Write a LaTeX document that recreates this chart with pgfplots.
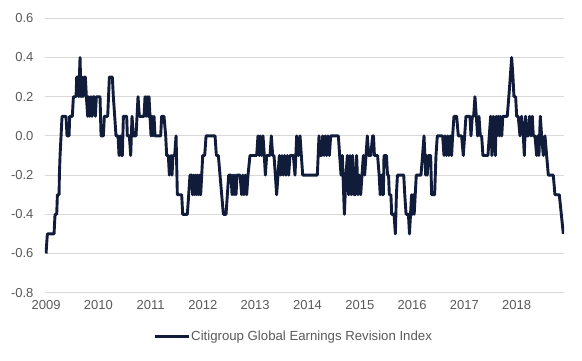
\documentclass[border=0pt]{standalone}
\usepackage{fontspec}
\setmainfont{Liberation Sans}
\usepackage{pgfplots}
\pgfplotsset{compat=1.18}
\definecolor{navy}{RGB}{17,27,58}
\definecolor{txtgray}{RGB}{89,89,89}
\definecolor{gridgray}{RGB}{217,217,217}
\begin{document}
\begin{tikzpicture}[x=1pt,y=1pt]
\useasboundingbox (0,0) rectangle (582,360);
\begin{axis}[
  at={(45pt,67.3pt)}, anchor=south west,
  scale only axis, width=519pt, height=274.4pt,
  xmin=2008.98, xmax=2018.905,
  ymin=-0.8, ymax=0.6,
  xtick={2009,2010,...,2018},
  ytick={-0.8,-0.6,...,0.61},
  /pgf/number format/assume math mode=true,
  xticklabel style={/pgf/number format/1000 sep={}, yshift=-4pt},
  yticklabel style={/pgf/number format/fixed, /pgf/number format/fixed zerofill, /pgf/number format/precision=1, xshift=-8pt},
  ymajorgrids, grid style={gridgray, line width=0.9pt},
  axis line style={draw=none},
  major tick length=0pt,
  tick label style={font=\fontsize{13}{15}\selectfont, text=txtgray},
  legend style={at={(0.478,-0.161)}, anchor=center, draw=none, fill=none,
    font=\fontsize{13.2}{15}\selectfont, text=txtgray, inner sep=0pt,
    nodes={inner sep=1pt}},
  legend image code/.code={\draw[#1, line width=3pt] (0pt,0pt) -- (34pt,0pt);},
]
\addplot[navy, line width=2.9pt, line join=round, mark=none] coordinates {
(2009.000,-0.6) (2009.025,-0.5) (2009.153,-0.5) (2009.172,-0.4) (2009.204,-0.4)
(2009.217,-0.3) (2009.249,-0.3) (2009.255,-0.2) (2009.268,-0.1) (2009.287,0.0)
(2009.306,0.1) (2009.382,0.1) (2009.401,0.0) (2009.440,0.0) (2009.452,0.1)
(2009.503,0.1) (2009.523,0.2) (2009.574,0.2) (2009.586,0.3) (2009.612,0.3)
(2009.625,0.2) (2009.650,0.4) (2009.669,0.2) (2009.688,0.3) (2009.707,0.2)
(2009.727,0.3) (2009.752,0.3) (2009.771,0.2) (2009.797,0.1) (2009.816,0.2)
(2009.835,0.1) (2009.860,0.2) (2009.879,0.1) (2009.899,0.2) (2009.924,0.2)
(2009.943,0.1) (2009.962,0.2) (2010.032,0.2) (2010.052,0.0) (2010.096,0.0)
(2010.115,0.1) (2010.179,0.1) (2010.211,0.3) (2010.268,0.3) (2010.287,0.2)
(2010.313,0.1) (2010.338,0.0) (2010.377,0.0) (2010.396,-0.1) (2010.420,0.0)
(2010.440,-0.1) (2010.459,-0.1) (2010.479,0.1) (2010.542,0.1) (2010.555,0.0)
(2010.593,0.0) (2010.619,-0.1) (2010.644,0.1) (2010.670,0.0) (2010.721,0.0)
(2010.740,0.1) (2010.759,0.2) (2010.784,0.1) (2010.874,0.1) (2010.893,0.2)
(2010.912,0.1) (2010.931,0.2) (2010.950,0.1) (2010.969,0.2) (2010.988,0.1)
(2011.008,0.0) (2011.027,0.1) (2011.046,0.0) (2011.065,0.1) (2011.084,0.0)
(2011.192,0.0) (2011.211,0.1) (2011.256,0.1) (2011.288,0.0) (2011.307,-0.1)
(2011.339,-0.1) (2011.358,-0.2) (2011.390,-0.1) (2011.409,-0.2) (2011.428,-0.1)
(2011.460,-0.1) (2011.486,0.0) (2011.511,-0.3) (2011.594,-0.3) (2011.613,-0.4)
(2011.702,-0.4) (2011.728,-0.3) (2011.753,-0.2) (2011.785,-0.2) (2011.804,-0.3)
(2011.824,-0.2) (2011.843,-0.3) (2011.862,-0.2) (2011.881,-0.3) (2011.900,-0.2)
(2011.919,-0.3) (2011.938,-0.2) (2011.957,-0.3) (2011.977,-0.2) (2011.996,-0.1)
(2012.034,-0.1) (2012.060,0.0) (2012.232,0.0) (2012.257,-0.1) (2012.295,-0.1)
(2012.327,-0.2) (2012.359,-0.3) (2012.391,-0.4) (2012.442,-0.4) (2012.467,-0.3)
(2012.493,-0.2) (2012.537,-0.2) (2012.557,-0.3) (2012.576,-0.2) (2012.595,-0.3)
(2012.614,-0.2) (2012.633,-0.3) (2012.652,-0.2) (2012.710,-0.2) (2012.741,-0.3)
(2012.760,-0.2) (2012.786,-0.3) (2012.811,-0.2) (2012.837,-0.3) (2012.862,-0.2)
(2012.900,-0.1) (2013.028,-0.1) (2013.053,0.0) (2013.079,-0.1) (2013.098,0.0)
(2013.123,-0.1) (2013.149,0.0) (2013.174,-0.1) (2013.194,-0.2) (2013.219,-0.1)
(2013.283,-0.1) (2013.308,0.0) (2013.334,-0.1) (2013.359,-0.1) (2013.385,-0.2)
(2013.410,-0.3) (2013.436,-0.2) (2013.461,-0.1) (2013.487,-0.2) (2013.512,-0.1)
(2013.538,-0.2) (2013.563,-0.1) (2013.589,-0.2) (2013.614,-0.1) (2013.640,-0.2)
(2013.665,-0.1) (2013.729,-0.1) (2013.761,-0.2) (2013.793,0.0) (2013.825,-0.1)
(2013.857,0.0) (2013.882,-0.1) (2013.908,-0.2) (2014.188,-0.2) (2014.220,0.0)
(2014.246,-0.1) (2014.271,-0.1) (2014.290,0.0) (2014.316,-0.1) (2014.341,0.0)
(2014.367,-0.1) (2014.392,0.0) (2014.418,-0.1) (2014.443,0.0) (2014.590,0.0)
(2014.615,-0.1) (2014.641,-0.2) (2014.666,-0.1) (2014.705,-0.4) (2014.736,-0.2)
(2014.762,-0.1) (2014.787,-0.3) (2014.813,-0.1) (2014.838,-0.3) (2014.864,-0.1)
(2014.889,-0.3) (2014.915,-0.3) (2014.940,-0.1) (2014.966,-0.3) (2014.991,-0.2)
(2015.017,-0.3) (2015.042,-0.2) (2015.068,-0.1) (2015.093,-0.2) (2015.119,-0.1)
(2015.144,0.0) (2015.170,-0.1) (2015.210,-0.1) (2015.245,0.0) (2015.262,0.0)
(2015.280,-0.1) (2015.340,-0.1) (2015.370,-0.2) (2015.390,-0.3) (2015.410,-0.2)
(2015.430,-0.3) (2015.450,-0.3) (2015.463,-0.1) (2015.510,-0.1) (2015.530,-0.2)
(2015.550,-0.2) (2015.565,-0.3) (2015.595,-0.3) (2015.610,-0.4) (2015.655,-0.4)
(2015.680,-0.5) (2015.700,-0.3) (2015.720,-0.2) (2015.840,-0.2) (2015.860,-0.3)
(2015.885,-0.4) (2015.930,-0.4) (2015.950,-0.5) (2015.970,-0.4) (2015.990,-0.3)
(2016.005,-0.4) (2016.020,-0.3) (2016.040,-0.4) (2016.060,-0.3) (2016.080,-0.2)
(2016.170,-0.2) (2016.200,-0.1) (2016.228,0.0) (2016.245,-0.1) (2016.260,-0.2)
(2016.275,-0.1) (2016.290,-0.2) (2016.310,-0.1) (2016.355,-0.1) (2016.374,-0.3)
(2016.431,-0.3) (2016.457,-0.1) (2016.482,0.0) (2016.584,0.0) (2016.610,-0.1)
(2016.629,0.0) (2016.654,-0.1) (2016.680,0.0) (2016.705,-0.1) (2016.731,0.0)
(2016.756,-0.1) (2016.775,0.0) (2016.801,0.1) (2016.852,0.1) (2016.884,0.0)
(2016.947,0.0) (2016.979,-0.1) (2017.005,0.0) (2017.030,0.1) (2017.107,0.1)
(2017.126,0.0) (2017.151,0.1) (2017.177,0.1) (2017.202,0.2) (2017.228,0.1)
(2017.253,0.0) (2017.279,0.1) (2017.304,0.0) (2017.330,0.0) (2017.355,-0.1)
(2017.451,-0.1) (2017.476,0.0) (2017.502,0.1) (2017.527,-0.1) (2017.553,0.1)
(2017.578,0.0) (2017.592,-0.1) (2017.610,0.1) (2017.625,0.0) (2017.650,0.1)
(2017.670,0.0) (2017.690,0.1) (2017.715,0.0) (2017.735,0.1) (2017.820,0.1)
(2017.850,0.2) (2017.878,0.3) (2017.904,0.4) (2017.929,0.3) (2017.948,0.2)
(2017.980,0.2) (2018.000,0.1) (2018.030,0.1) (2018.063,0.0) (2018.095,0.1)
(2018.127,0.0) (2018.146,-0.1) (2018.171,0.1) (2018.197,0.0) (2018.222,0.0)
(2018.248,0.1) (2018.273,0.0) (2018.299,0.1) (2018.318,0.0) (2018.350,0.0)
(2018.382,-0.1) (2018.401,0.0) (2018.426,-0.1) (2018.452,0.1) (2018.477,0.0)
(2018.509,-0.1) (2018.541,0.0) (2018.573,-0.1) (2018.605,-0.2) (2018.700,-0.2)
(2018.732,-0.3) (2018.815,-0.3) (2018.892,-0.5)
};
\addlegendentry{Citigroup Global Earnings Revision Index}
\end{axis}
\end{tikzpicture}
\end{document}
